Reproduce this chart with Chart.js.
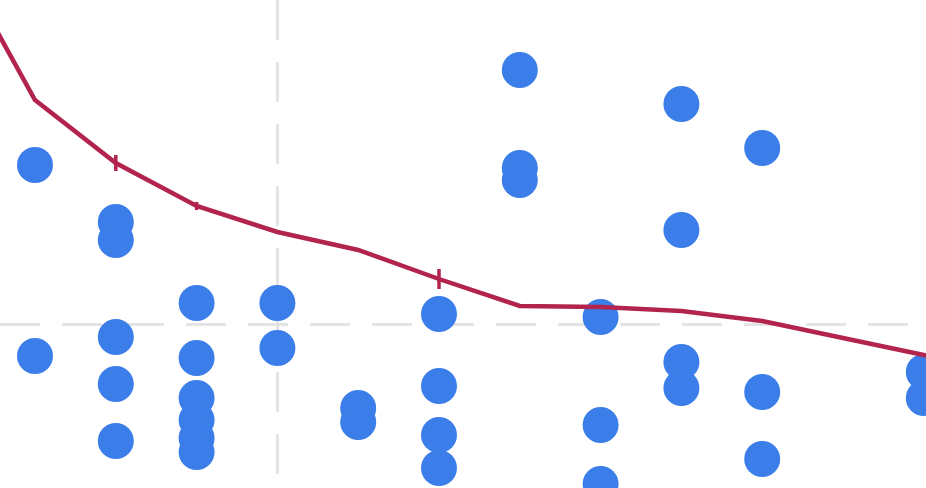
<!DOCTYPE html>
<html>
<head>
<meta charset="utf-8">
<script src="https://cdn.jsdelivr.net/npm/chart.js@4"></script>
<style>
  html, body { margin: 0; padding: 0; background: #fff; }
  #wrap { width: 926px; height: 488px; position: relative; }
</style>
</head>
<body>
<div id="wrap"><canvas id="chart"></canvas></div>
<script>
// scatter columns (x index) and their values
const pointX = [0, 0, 1, 1, 1, 1, 1, 2, 2, 2, 2, 2, 2, 3, 3, 4, 4, 5, 5, 5, 5, 6, 6, 6, 7, 7, 7, 8, 8, 8, 8, 9, 9, 9, 11, 11];
const pointY = [90, 42.25, 75.75, 71.25, 47, 35.25, 21, 55.5, 41.75, 31.75, 26.25, 21.75, 18.25, 55.5, 44.25, 29.25, 25.75,
                52.75, 34.75, 22.5, 14.25, 113.75, 89.25, 86.25, 52, 25, 10.25, 105.25, 73.75, 40.75, 34.25, 94.25, 33.25, 16.5, 38.25, 31.75];

// trend line
const lineX = [-1, 0, 1, 2, 3, 4, 5, 6, 7, 8, 9, 10, 11, 12];
const lineY = [142.75, 106.25, 90.5, 79.75, 73.25, 68.75, 61.5, 54.75, 54.5, 53.5, 51, 46.75, 42.5, 38.25];

// the only grid lines that fall inside the view
const xGridAt = [3];
const yGridAt = [50];

const scatterData = pointX.map((x, i) => ({ x: x, y: pointY[i] }));
const lineData = lineX.map((x, i) => ({ x: x, y: lineY[i] }));

const gridStyle = {
    color: '#e4e4e4',
    lineWidth: 3,
    drawTicks: false,
    tickLength: 0
};

new Chart(document.getElementById('chart'), {
    type: 'scatter',
    data: {
        datasets: [
            {
                type: 'line',
                data: lineData,
                borderColor: '#b2244d',
                borderWidth: 4.5,
                pointRadius: [0, 0, 8, 4, 0, 0, 10, 0, 0, 0, 0, 0, 0, 0],
                pointStyle: 'line',
                rotation: 90,
                pointBorderColor: '#b2244d',
                pointBorderWidth: 3.5,
                tension: 0,
                fill: false,
                clip: false,
                order: 0
            },
            {
                data: scatterData,
                backgroundColor: '#3b7ee9',
                borderWidth: 0,
                pointRadius: 18,
                pointHoverRadius: 18,
                clip: false,
                order: 1
            }
        ]
    },
    options: {
        responsive: true,
        maintainAspectRatio: false,
        animation: false,
        layout: { padding: 0, autoPadding: false },
        plugins: {
            legend: { display: false },
            tooltip: { enabled: false }
        },
        scales: {
            x: {
                type: 'linear',
                min: -35 / 80.8,
                max: (926 - 35) / 80.8,
                border: { display: false, dash: [40, 22] },
                grid: gridStyle,
                ticks: { display: false },
                afterBuildTicks: (scale) => { scale.ticks = xGridAt.map(v => ({ value: v })); }
            },
            y: {
                type: 'linear',
                min: (525 - 488) / 4,
                max: 525 / 4,
                border: { display: false, dash: [40, 22] },
                grid: gridStyle,
                ticks: { display: false },
                afterBuildTicks: (scale) => { scale.ticks = yGridAt.map(v => ({ value: v })); }
            }
        }
    }
});
</script>
</body>
</html>
